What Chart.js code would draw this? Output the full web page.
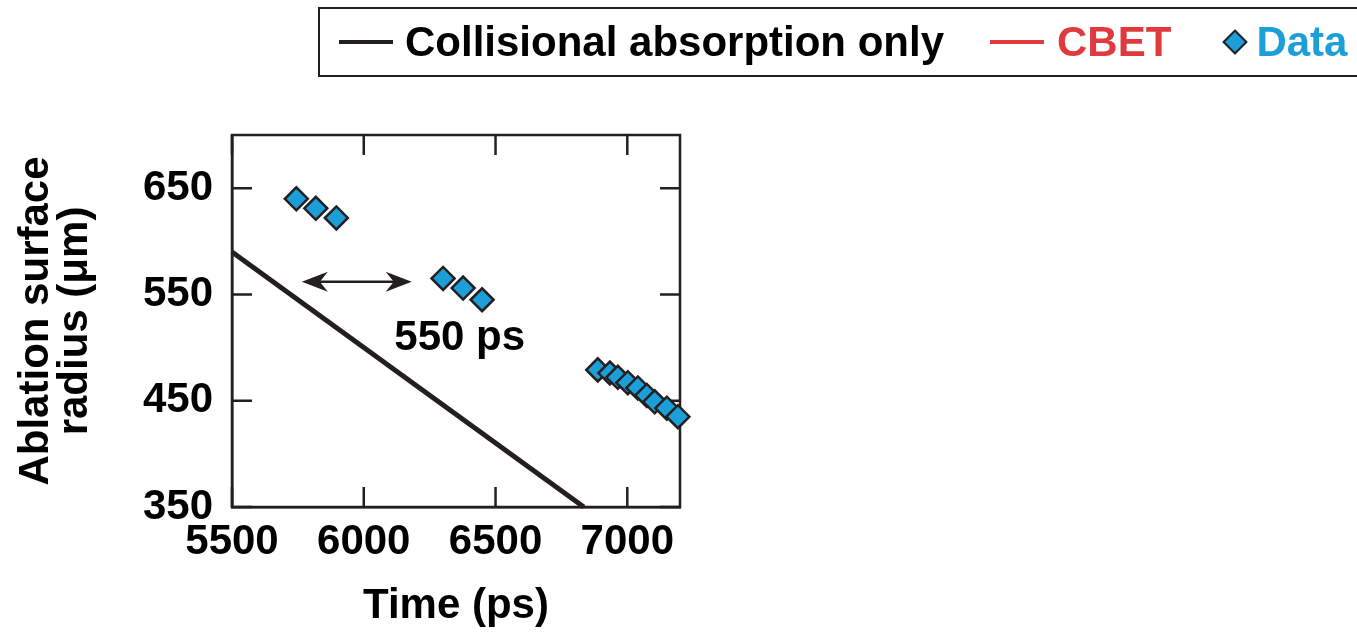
<!DOCTYPE html>
<html lang="en">
<head>
  <meta charset="UTF-8" />
  <title>Ablation surface radius vs time</title>
  <script src="https://cdn.jsdelivr.net/npm/chart.js"></script>
  <style>
    body { margin: 0; background: #fff; font-family: "Liberation Sans", Arial, sans-serif; }
    #wrap { position: relative; width: 1357px; height: 635px; }
    #legend {
      position: absolute; left: 318px; top: 7px; width: 1060px; height: 66px;
      border: 2px solid #231f20; box-sizing: content-box;
      display: flex; align-items: center; font-weight: bold; font-size: 42px;
    }
    .ln { display: inline-block; width: 54px; height: 4px; }
    .dia {
      display: inline-block; width: 14px; height: 14px; background: #1c9fd9;
      border: 2px solid #231f20; transform: rotate(45deg);
    }
  </style>
</head>
<body>
  <div id="wrap">
    <canvas id="chart"></canvas>
    <div id="legend">
      <span class="ln" style="background:#231f20;margin-left:19px"></span>
      <span style="margin-left:12px;color:#000">Collisional absorption only</span>
      <span class="ln" style="background:#e0393e;margin-left:46px"></span>
      <span style="margin-left:13px;color:#e0393e">CBET</span>
      <span class="dia" style="margin-left:55px"></span>
      <span style="margin-left:12px;color:#1c9fd9">Data</span>
    </div>
  </div>

  <script>
    // axis ticks
    const xTicks = [5500, 6000, 6500, 7000];
    const yTicks = [350, 450, 550, 650];

    // collisional absorption only (straight line)
    const collTime = [5500, 6835];
    const collRadius = [590, 350];

    // measured data
    const dataTime = [5744, 5818, 5896, 6301, 6377, 6449,
      6888, 6934, 6964, 7002, 7040, 7074, 7104, 7150, 7192];
    const dataRadius = [640, 631, 622, 565, 556, 545,
      479, 476, 472, 467, 462, 455, 449, 443, 435];

    // "550 ps" arrow annotation
    const arrowTime = [5765, 6182];
    const arrowRadius = 562;
    const noteTime = 6364;
    const noteRadius = 509;

    const ink = '#231f20';
    const tickFont = { family: 'Liberation Sans', size: 42, weight: 'bold' };

    const framePlugin = {
      id: 'frame',
      beforeDatasetsDraw(chart) {
        const { ctx, chartArea: a, scales: { x, y } } = chart;
        ctx.save();
        ctx.strokeStyle = ink;
        ctx.lineWidth = 2.5;
        ctx.strokeRect(a.left, a.top, a.right - a.left, a.bottom - a.top);
        ctx.beginPath();
        xTicks.forEach(v => {
          const px = x.getPixelForValue(v);
          ctx.moveTo(px, a.bottom); ctx.lineTo(px, a.bottom - 20);
          ctx.moveTo(px, a.top); ctx.lineTo(px, a.top + 20);
        });
        yTicks.forEach(v => {
          const py = y.getPixelForValue(v);
          ctx.moveTo(a.left, py); ctx.lineTo(a.left + 20, py);
          ctx.moveTo(a.right, py); ctx.lineTo(a.right - 20, py);
        });
        ctx.stroke();

        // double arrow
        const x0 = x.getPixelForValue(arrowTime[0]);
        const x1 = x.getPixelForValue(arrowTime[1]);
        const py = y.getPixelForValue(arrowRadius);
        ctx.beginPath();
        ctx.moveTo(x0 + 15, py); ctx.lineTo(x1 - 15, py);
        ctx.stroke();
        ctx.fillStyle = ink;
        [[x0, 1], [x1, -1]].forEach(([px, d]) => {
          ctx.beginPath();
          ctx.moveTo(px, py);
          ctx.lineTo(px + d * 26, py - 10);
          ctx.lineTo(px + d * 18, py);
          ctx.lineTo(px + d * 26, py + 10);
          ctx.closePath();
          ctx.fill();
        });

        ctx.fillStyle = '#000';
        ctx.font = 'bold 42px "Liberation Sans"';
        ctx.textAlign = 'center';
        ctx.textBaseline = 'middle';
        ctx.fillText('550 ps', x.getPixelForValue(noteTime), y.getPixelForValue(noteRadius));
        ctx.restore();
      }
    };

    new Chart(document.getElementById('chart'), {
      type: 'scatter',
      data: {
        datasets: [
          {
            label: 'Collisional absorption only',
            type: 'line',
            data: collTime.map((t, i) => ({ x: t, y: collRadius[i] })),
            borderColor: ink,
            borderWidth: 5,
            pointRadius: 0,
            clip: false
          },
          {
            label: 'Data',
            data: dataTime.map((t, i) => ({ x: t, y: dataRadius[i] })),
            pointStyle: 'rectRot',
            pointRadius: 11.5,
            backgroundColor: '#1c9fd9',
            borderColor: ink,
            borderWidth: 2.5,
            clip: false
          }
        ]
      },
      options: {
        responsive: true,
        maintainAspectRatio: false,
        animation: false,
        layout: { padding: { left: 0, top: 135, right: 677, bottom: 0 } },
        plugins: { legend: { display: false }, tooltip: { enabled: false } },
        scales: {
          x: {
            type: 'linear', min: 5500, max: 7200,
            grid: { display: false, drawTicks: false },
            border: { color: ink, width: 2.5 },
            ticks: { font: tickFont, color: '#000', padding: 10, callback: v => String(v) },
            afterBuildTicks: s => { s.ticks = xTicks.map(v => ({ value: v })); },
            afterFit: s => { s.height = 128; },
            title: {
              display: true, text: 'Time (ps)', color: '#000',
              font: { family: 'Liberation Sans', size: 42, weight: 'bold' },
              padding: { top: 0, bottom: 3 }
            }
          },
          y: {
            type: 'linear', min: 350, max: 700,
            grid: { display: false, drawTicks: false },
            border: { color: ink, width: 2.5 },
            ticks: { font: tickFont, color: '#000', padding: 19, callback: v => String(v) },
            afterBuildTicks: s => { s.ticks = yTicks.map(v => ({ value: v })); },
            afterFit: s => { s.width = 232; },
            title: {
              display: true, text: ['Ablation surface', 'radius (\u03bcm)'], color: '#000',
              font: { family: 'Liberation Sans', size: 42, weight: 'bold', lineHeight: 0.93 },
              padding: { top: 17, bottom: 0 }
            }
          }
        }
      },
      plugins: [framePlugin]
    });
  </script>
</body>
</html>
